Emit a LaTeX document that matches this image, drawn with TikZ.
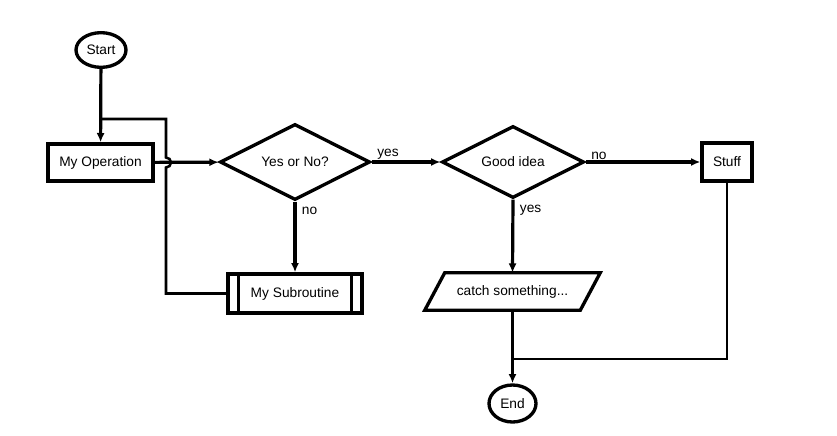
\documentclass[tikz,border=0pt]{standalone}
\usepackage{fontspec}
\setmainfont{Liberation Sans}
\usetikzlibrary{shapes.geometric,arrows.meta,calc}
\begin{document}
\begin{tikzpicture}[x=0.75pt,y=-0.75pt,
  every node/.style={font=\fontsize{10.3}{12}\selectfont, inner sep=0pt},
  box/.style={draw, line width=2.5pt, rectangle},
  term/.style={draw, line width=2.5pt, ellipse},
  decision/.style={draw, line width=2.5pt, diamond, aspect=2},
  conn/.style={line width=2.4pt, -{Latex[length=7pt,width=6pt]}},
  thinconn/.style={line width=1.9pt},
  lbl/.style={font=\fontsize{10.3}{12}\selectfont}
]
\useasboundingbox (0,0) rectangle (837,435);

\node[term, minimum width=37.5pt, minimum height=26pt] (start) at (101,50) {Start};
\node[box, minimum width=78.75pt, minimum height=27.75pt] (op) at (100.5,162.5) {My Operation};
\node[decision, minimum width=112.5pt, minimum height=57pt] (yn) at (295,162) {Yes or No?};
\node[decision, minimum width=106.5pt, minimum height=54pt] (gi) at (513,162) {Good idea};
\node[box, minimum width=37.5pt, minimum height=28.5pt] (stuff) at (727,162) {Stuff};
\node[box, minimum width=100.5pt, minimum height=29.25pt] (sub) at (295,293.5) {My Subroutine};
\node[minimum width=116.25pt, minimum height=27.75pt] (catch) at (512.5,291.5) {catch something...};
\node[term, minimum width=35.25pt, minimum height=27.75pt] (end) at (512.5,403.5) {End};

% subroutine inner bars
\draw[line width=2.5pt] ($(sub.north west)+(12,0)$) -- ($(sub.south west)+(12,0)$);
\draw[line width=2.5pt] ($(sub.north east)+(-12,0)$) -- ($(sub.south east)+(-12,0)$);
% parallelogram
\draw[line width=2.5pt, line join=miter] ($(catch.north west)+(10,0)$) -- ($(catch.north east)+(10,0)$)
  -- ($(catch.south east)+(-10,0)$) -- ($(catch.south west)+(-10,0)$) -- cycle;

% coordinates
\coordinate (lpTop) at (166,119);
\coordinate (lpJoin) at (101,119);
\coordinate (lpBot) at (166,293.5);
\coordinate (jn) at (512.5,359);

% connectors
\draw[conn] (start) -- (op);
\draw[conn] (op) -- (yn);
\draw[thinconn, line join=miter] (sub.west) -- (lpBot) -- (166,167.5) arc[start angle=-90,end angle=90,radius=3.75pt] -- (lpTop) -- (lpJoin);
\draw[conn] (yn.east) -- (gi.west) node[pos=0, anchor=south west, xshift=3pt, yshift=0.5pt, lbl] {yes};
\draw[conn] (yn.south) -- (sub.north) node[pos=0, anchor=north west, xshift=4pt, yshift=-3pt, lbl] {no};
\draw[conn] (gi.east) -- (stuff.west) node[pos=0, anchor=south west, xshift=3pt, yshift=0.5pt, lbl] {no};
\draw[conn] (gi.south) -- (catch.north) node[pos=0, anchor=north west, xshift=4pt, yshift=-3pt, lbl] {yes};
\draw[conn] (catch.south) -- (end.north);
\draw[thinconn, line join=miter] (stuff.south) -- (stuff.south |- jn) -- (jn);
\end{tikzpicture}
\end{document}
